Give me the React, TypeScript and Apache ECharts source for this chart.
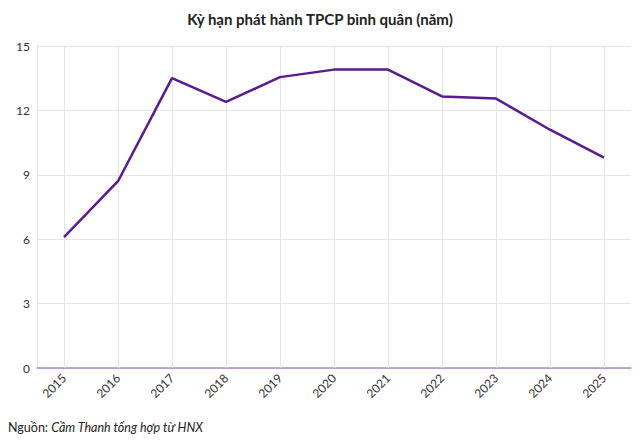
import React, { useEffect, useRef } from 'react'
import * as echarts from 'echarts'

const years = ['2015', '2016', '2017', '2018', '2019', '2020', '2021', '2022', '2023', '2024', '2025']
const avgTerm = [6.1, 8.7, 13.5, 12.4, 13.55, 13.9, 13.9, 12.65, 12.55, 11.1, 9.8]
const yTicks = [0, 3, 6, 9, 12, 15]

const App = () => {
    const chartRef = useRef<HTMLDivElement>(null)

    useEffect(() => {
        if (!chartRef.current) return
        const myChart = echarts.init(chartRef.current, null, { renderer: 'svg' })

        const option = {
            animation: false,
            textStyle: { fontFamily: 'Lato' },
            title: {
                text: 'Kỳ hạn phát hành TPCP bình quân (năm)',
                left: 'center',
                top: 6,
                textStyle: { fontFamily: 'Lato', fontSize: 15, fontWeight: 'bold', color: '#222' },
            },
            grid: { left: 37, right: 9, top: 46, bottom: 80 },
            xAxis: {
                type: 'category',
                data: years,
                boundaryGap: true,
                axisLine: { show: true, lineStyle: { color: '#a98bc9', width: 1.5 } },
                axisTick: { show: false },
                splitLine: { show: false },
                axisLabel: { rotate: 45, fontSize: 12, color: '#333', margin: 8 },
            },
            yAxis: {
                type: 'value',
                min: yTicks[0],
                max: yTicks[yTicks.length - 1],
                interval: 3,
                axisLine: { show: true, lineStyle: { color: '#e6e6e6' } },
                axisTick: { show: false },
                axisLabel: { fontSize: 12, color: '#333', margin: 7 },
                splitLine: { lineStyle: { color: '#e6e6e6' } },
            },
            series: [
                {
                    type: 'line',
                    data: avgTerm,
                    showSymbol: false,
                    lineStyle: { color: '#5a1a92', width: 2.5 },
                    z: 5,
                    markLine: {
                        silent: true,
                        symbol: ['none', 'none'],
                        label: { show: false },
                        lineStyle: { color: '#e6e6e6', type: 'solid', width: 1 },
                        data: years.map((y) => ({ xAxis: y })),
                        z: 1,
                    },
                },
            ],
            graphic: [
                {
                    type: 'text',
                    left: 8,
                    top: 421,
                    style: {
                        text: '{a|Nguồn: }{b|Cầm Thanh tổng hợp từ HNX}',
                        rich: {
                            a: { fontFamily: 'Lato', fontSize: 12.5, fill: '#222' },
                            b: { fontFamily: 'Lato', fontSize: 12.5, fontStyle: 'italic', fill: '#222' },
                        },
                    },
                },
            ],
        }

        myChart.setOption(option)

        return () => {
            myChart.dispose()
        }
    }, [])

    return <div ref={chartRef} style={{ width: '640px', height: '448px', position: 'absolute', left: 0, top: 0, background: '#fff' }} />
}

export default App
